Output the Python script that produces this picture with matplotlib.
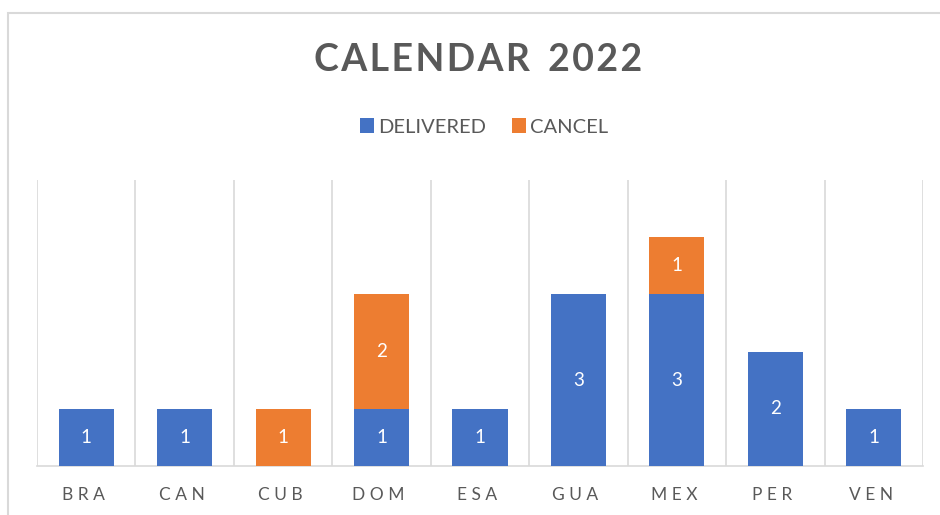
import numpy as np
import matplotlib.pyplot as plt
import matplotlib.transforms as mtransforms
from matplotlib.patches import Rectangle

plt.rcParams['font.family'] = ['Lato', 'DejaVu Sans']

# data
countries = ['BRA', 'CAN', 'CUB', 'DOM', 'ESA', 'GUA', 'MEX', 'PER', 'VEN']
delivered = [1, 1, 0, 1, 1, 3, 3, 2, 1]
cancel = [0, 0, 1, 2, 0, 0, 1, 0, 0]

blue = '#4472C4'
orange = '#ED7D31'
grey_txt = '#595959'
grey_line = '#D9D9D9'

fig = plt.figure(figsize=(9.4, 5.15), dpi=100)
ax = fig.add_axes([37/940, 49/515, 886/940, 286/515])

x = np.arange(len(countries))
w = 0.56
b1 = ax.bar(x, delivered, w, color=blue, label='DELIVERED', zorder=3)
b2 = ax.bar(x, cancel, w, bottom=delivered, color=orange, label='CANCEL', zorder=3)

for bars, vals in ((b1, delivered), (b2, cancel)):
    ax.bar_label(bars, labels=[str(v) if v else '' for v in vals],
                 label_type='center', color='white', fontsize=13.5)

ax.set_xlim(-0.5, len(countries) - 0.5)
ax.set_ylim(0, 5)
ax.set_yticks([])
ax.set_xticks(x)
ax.set_xticklabels([' '.join(c) for c in countries], color=grey_txt, fontsize=12.5)
ax.tick_params(axis='x', length=0, pad=15)
shift = mtransforms.ScaledTranslation(-3/100, 0, fig.dpi_scale_trans)
for lbl in ax.get_xticklabels():
    lbl.set_transform(lbl.get_transform() + shift)
ax.set_xticks(np.arange(-0.5, len(countries)), minor=True)
ax.tick_params(axis='x', which='minor', length=0)
ax.grid(axis='x', which='minor', color=grey_line, lw=1.2, zorder=0)
for s in ['top', 'left', 'right']:
    ax.spines[s].set_visible(False)
ax.spines['bottom'].set_color(grey_line)
ax.spines['bottom'].set_linewidth(1.2)

title = '\u200a'.join('CALENDAR') + '  ' + '\u200a'.join('2022')
fig.text(478/940, 1 - 60/515, title, ha='center', va='center', fontsize=27,
         fontweight='bold', color=grey_txt)

fig.legend(loc='center', bbox_to_anchor=(484/940, 1 - 127/515), ncol=2, frameon=False,
           fontsize=14.5, labelcolor=grey_txt, handlelength=0.7, handleheight=0.7,
           handletextpad=0.2, columnspacing=1.3)

# outer chart border
fig.patches.append(Rectangle((8/940, -0.2), 1.2, 1 - 13/515 + 0.2, transform=fig.transFigure,
                             fill=False, edgecolor=grey_line, lw=1.5))

fig.savefig('out.png', dpi=100)
